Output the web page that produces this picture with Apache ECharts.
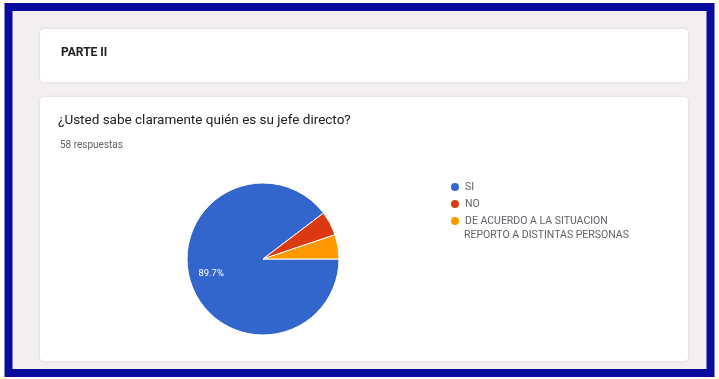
<!DOCTYPE html>
<html>
<head>
<meta charset="utf-8">
<script src="https://cdn.jsdelivr.net/npm/echarts@6/dist/echarts.min.js"></script>
<style>
html,body{margin:0;padding:0;background:#fff;}
#c{width:719px;height:379px;}
</style>
</head>
<body>
<div id="c"></div>
<script>
var sectionTitle = "PARTE II";
var question = "¿Usted sabe claramente quién es su jefe directo?";
var responsesText = "58 respuestas";
var categories = ["SI", "NO", "DE ACUERDO A LA SITUACION REPORTO A DISTINTAS PERSONAS"];
var values = [52, 3, 3];
var colors = ["#3366cc", "#dc3912", "#ff9900"];

// split a legend name into a first line of at most maxChars characters and the rest
function splitName(name, maxChars) {
  var words = name.split(' '), first = '', i = 0;
  while (i < words.length) {
    var t = first ? first + ' ' + words[i] : words[i];
    if (t.length > maxChars && first) break;
    first = t; i++;
  }
  return [first, words.slice(i).join(' ')];
}
var longName = categories[2];

var legendText = {fontFamily: 'Roboto', fontSize: 10.5, color: '#5f6368', lineHeight: 16};

var chart = echarts.init(document.getElementById('c'), null, {renderer: 'canvas'});
var option = {
  animation: false,
  backgroundColor: '#ffffff',
  graphic: [
    {type: 'rect', shape: {x: 0, y: 0, width: 719, height: 379}, style: {fill: '#ffffff'}, z: -10},
    {type: 'rect', shape: {x: 8.5, y: 7, width: 702, height: 366}, style: {fill: '#f4efef', stroke: '#0a0a9c', lineWidth: 8}, z: -9},
    {type: 'rect', shape: {x: 40, y: 29, width: 648, height: 53, r: 4}, style: {fill: '#ffffff', shadowBlur: 3, shadowColor: 'rgba(0,0,0,0.12)'}, z: -8},
    {type: 'rect', shape: {x: 40, y: 97, width: 648, height: 264, r: 4}, style: {fill: '#ffffff', shadowBlur: 3, shadowColor: 'rgba(0,0,0,0.12)'}, z: -8}
  ],
  title: [
    {text: sectionTitle, left: 61, top: 47, padding: 0, textStyle: {fontFamily: 'Roboto', fontSize: 12, fontWeight: 'bold', color: '#202124'}},
    {text: question, left: 58, top: 114, padding: 0, textStyle: {fontFamily: 'Roboto', fontSize: 13.5, fontWeight: 'normal', color: '#202124'}},
    {text: responsesText, left: 60, top: 140, padding: 0, textStyle: {fontFamily: 'Roboto', fontSize: 10, fontWeight: 'normal', color: '#5f6368'}}
  ],
  legend: [{
    orient: 'vertical',
    left: 449,
    top: 179,
    padding: 0,
    itemWidth: 10,
    itemHeight: 10,
    itemGap: 1,
    icon: 'circle',
    data: categories,
    formatter: function (name) { return splitName(name, 26)[0]; },
    textStyle: legendText
  }, {
    orient: 'vertical',
    left: 449,
    top: 227,
    padding: 0,
    itemWidth: 10,
    itemHeight: 10,
    icon: 'none',
    selectedMode: false,
    data: [longName],
    formatter: function (name) { return splitName(name, 26)[1]; },
    textStyle: legendText
  }],
  series: [{
    type: 'pie',
    center: [263, 259],
    radius: [0, 76],
    startAngle: 0,
    clockwise: true,
    color: colors,
    data: categories.map(function (c, i) { return {name: c, value: values[i]}; }),
    label: {
      position: 'inside',
      fontFamily: 'Roboto',
      fontSize: 9.5,
      color: '#ffffff',
      formatter: function (p) { return p.percent > 20 ? p.percent.toFixed(1) + '%' : ''; }
    },
    labelLayout: function (p) { return p.dataIndex === 0 ? {dx: -13, dy: 2} : {}; },
    labelLine: {show: false},
    itemStyle: {borderColor: '#ffffff', borderWidth: 1}
  }]
};
chart.setOption(option);
</script>
</body>
</html>
